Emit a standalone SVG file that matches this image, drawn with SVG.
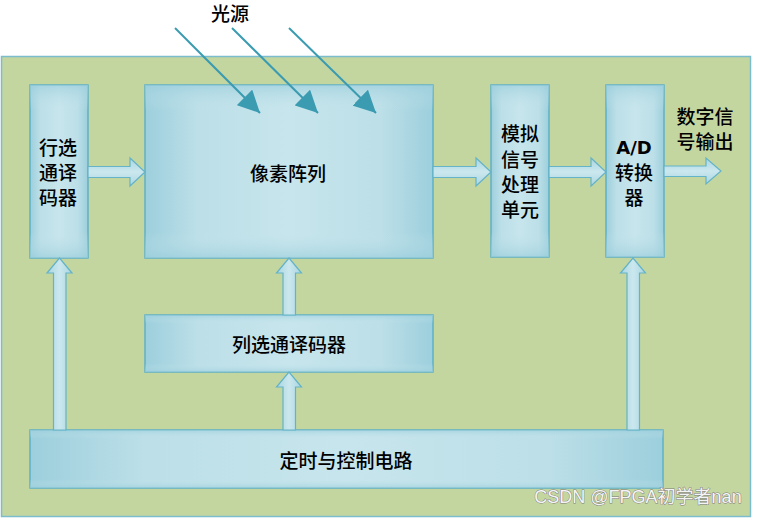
<svg xmlns="http://www.w3.org/2000/svg" width="757" height="519" viewBox="0 0 757 519">
<defs>
<linearGradient id="gh" x1="0" y1="0" x2="1" y2="0">
<stop offset="0" stop-color="#9ccfdc"/>
<stop offset="0.18" stop-color="#bcdfe8"/>
<stop offset="0.5" stop-color="#c7e5ec"/>
<stop offset="0.82" stop-color="#bcdfe8"/>
<stop offset="1" stop-color="#9ccfdc"/>
</linearGradient>
<linearGradient id="gv" x1="0" y1="0" x2="0" y2="1">
<stop offset="0" stop-color="#9ccfdc" stop-opacity="0.7"/>
<stop offset="0.15" stop-color="#c7e5ec" stop-opacity="0"/>
<stop offset="0.85" stop-color="#c7e5ec" stop-opacity="0"/>
<stop offset="1" stop-color="#9ccfdc" stop-opacity="0.7"/>
</linearGradient>
<linearGradient id="ga" x1="0" y1="0" x2="0" y2="1">
<stop offset="0" stop-color="#a9d6e1"/>
<stop offset="0.5" stop-color="#cbe7ee"/>
<stop offset="1" stop-color="#a9d6e1"/>
</linearGradient>
<linearGradient id="gav" x1="0" y1="0" x2="1" y2="0">
<stop offset="0" stop-color="#a9d6e1"/>
<stop offset="0.5" stop-color="#cbe7ee"/>
<stop offset="1" stop-color="#a9d6e1"/>
</linearGradient>
<marker id="tri2" viewBox="0 0 22 22" refX="22" refY="11" markerWidth="22" markerHeight="22" markerUnits="userSpaceOnUse" orient="auto">
<path d="M0,0 L22,11 L0,22 z" fill="#3a9bb1"/>
</marker>
</defs>
<style>
.box{stroke:#5fb0c6;stroke-width:1.5}
.ov{stroke:none}
.t{font-family:"Noto Sans CJK SC","Noto Sans CJK TC",sans-serif;font-size:19px;font-weight:500;fill:#000;text-anchor:middle;dominant-baseline:central}
.fa{fill:url(#ga);stroke:#64b3c7;stroke-width:1.2}
.fv{fill:url(#gav);stroke:#64b3c7;stroke-width:1.2}
.ray{stroke:#3a9bb1;stroke-width:2;fill:none}
</style>
<rect x="0" y="0" width="757" height="519" fill="#ffffff"/>
<rect id="bg" x="1.5" y="56.5" width="749" height="460" fill="#c4d6a0" stroke="#7bbccd" stroke-width="1.5"/>

<g id="row-decoder">
<rect class="box" x="30" y="85" width="58" height="173" fill="url(#gh)"/>
<rect class="ov" x="30" y="85" width="58" height="173" fill="url(#gv)"/>
<text class="t" x="58" y="146">行选</text>
<text class="t" x="58" y="171">通译</text>
<text class="t" x="58" y="196">码器</text>
</g>
<g id="pixel-array">
<rect class="box" x="145" y="85" width="288" height="173" fill="url(#gh)"/>
<rect class="ov" x="145" y="85" width="288" height="173" fill="url(#gv)"/>
<text class="t" x="288" y="172">像素阵列</text>
</g>
<g id="analog">
<rect class="box" x="491" y="85" width="58" height="172" fill="url(#gh)"/>
<rect class="ov" x="491" y="85" width="58" height="172" fill="url(#gv)"/>
<text class="t" x="520" y="132">模拟</text>
<text class="t" x="520" y="158">信号</text>
<text class="t" x="520" y="183">处理</text>
<text class="t" x="520" y="208">单元</text>
</g>
<g id="adc">
<rect class="box" x="606" y="85" width="58" height="172" fill="url(#gh)"/>
<rect class="ov" x="606" y="85" width="58" height="172" fill="url(#gv)"/>
<text class="t" x="634" y="147" style="font-family:'DejaVu Sans',sans-serif;font-weight:bold;font-size:18px">A/D</text>
<text class="t" x="634" y="171">转换</text>
<text class="t" x="634" y="196">器</text>
</g>
<g id="output-label">
<text class="t" x="705" y="115">数字信</text>
<text class="t" x="705" y="140">号输出</text>
</g>
<g id="col-decoder">
<rect class="box" x="145" y="315" width="288" height="57" fill="url(#gh)"/>
<rect class="ov" x="145" y="315" width="288" height="57" fill="url(#gv)"/>
<text class="t" x="289" y="343">列选通译码器</text>
</g>
<g id="timing">
<rect class="box" x="30" y="430" width="633" height="58" fill="url(#gh)"/>
<rect class="ov" x="30" y="430" width="633" height="58" fill="url(#gv)"/>
<text class="t" x="346" y="459">定时与控制电路</text>
</g>
<g id="light-label">
<text class="t" x="230" y="12">光源</text>
</g>

<g id="connectors">
<path class="fa" d="M88,166.5 H130 V158 L145,172 L130,186 V177.5 H88 Z"/>
<path class="fa" d="M433,166.5 H476 V158 L491,172 L476,186 V177.5 H433 Z"/>
<path class="fa" d="M549,166.5 H591 V158 L606,172 L591,186 V177.5 H549 Z"/>
<path class="fa" d="M664,166 H706 V158 L721,171 L706,184 V176.5 H664 Z"/>
<path class="fv" d="M53.5,430 V273 H47 L59.5,258 L72,273 H66 V430 Z"/>
<path class="fv" d="M283,315 V273 H276.5 L289,258 L301.5,273 H295.5 V315 Z"/>
<path class="fv" d="M283,430 V387 H276.5 L289,372 L301.5,387 H295.5 V430 Z"/>
<path class="fv" d="M627,430 V273 H620.5 L633,258 L645.5,273 H639.5 V430 Z"/>
<line class="ray" x1="175" y1="28" x2="260" y2="113" marker-end="url(#tri2)"/>
<line class="ray" x1="232" y1="28" x2="318" y2="113" marker-end="url(#tri2)"/>
<line class="ray" x1="289" y1="28" x2="376" y2="113" marker-end="url(#tri2)"/>
</g>

<text x="638" y="497" style="font-family:'Liberation Sans','Noto Sans CJK SC',sans-serif;font-size:18px;fill:#f4f4f4;stroke:#7a7a7a;stroke-width:0.9;paint-order:stroke;text-anchor:middle;dominant-baseline:central">CSDN @FPGA初学者nan</text>
</svg>
